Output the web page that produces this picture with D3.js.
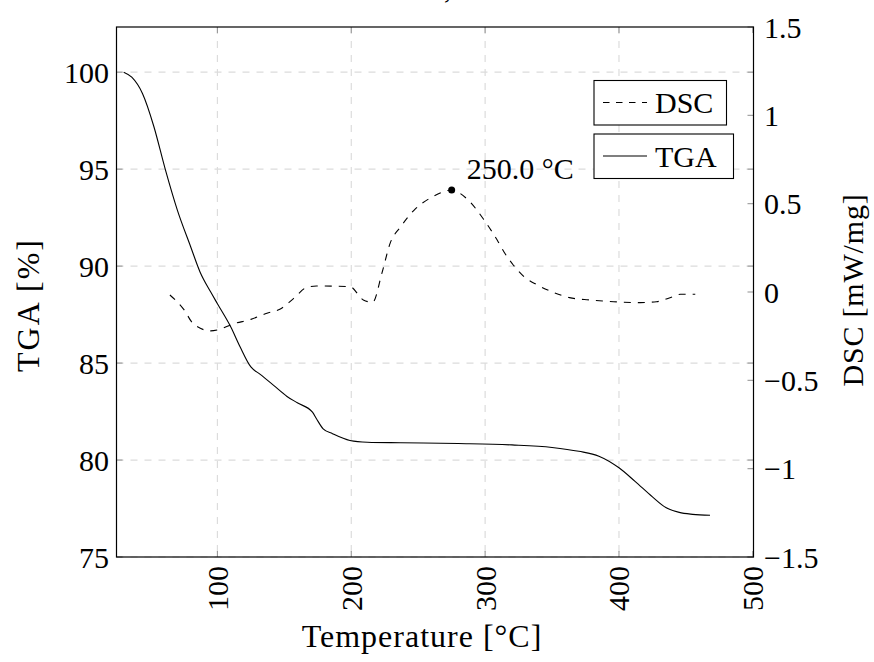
<!DOCTYPE html>
<html><head><meta charset="utf-8">
<script src="https://cdn.jsdelivr.net/npm/d3@7"></script>
<style>body{margin:0;background:#fff}svg{display:block}text{font-family:"Liberation Serif","DejaVu Serif",serif;fill:#000}</style>
</head><body><svg id="c" width="874" height="662"></svg>
<script>
// ---- data ----
const tgaTemp = [30,36,44,52.5,61,70,80,87,95,100,110,117,125,132,142,152,160,171,174,179,186,199,212,237,280,320,350,370,385,400,412,425,435,445,455,468];
const tgaVal  = [100,99.74,98.9,97.2,95.0,92.9,91.0,89.7,88.66,88.06,86.86,85.83,84.8,84.42,83.85,83.28,82.94,82.47,82.13,81.61,81.36,81.01,80.92,80.89,80.85,80.78,80.65,80.45,80.2,79.6,78.9,78.1,77.55,77.3,77.2,77.15];
const dscTemp = [64.5,75,82,95,100,112,125,137,147,157,167,174,199,209,216,223,229,237,247,261,275,286,299,309,314,321,329,339,351,363,378,396,416,428,440,446,457];
const dscVal  = [-0.017,-0.10,-0.18,-0.22,-0.215,-0.18,-0.155,-0.12,-0.096,-0.036,0.027,0.034,0.03,-0.045,-0.058,0.11,0.275,0.37,0.464,0.54,0.577,0.53,0.41,0.294,0.228,0.153,0.087,0.04,-0.002,-0.032,-0.045,-0.055,-0.06,-0.055,-0.027,-0.013,-0.013];
const peakPoint = {T: 275, v: 0.577, label: "250.0 °C"};
const xTicks = [100,200,300,400,500];
const tgaTicks = [75,80,85,90,95,100];
const dscTicks = [-1.5,-1,-0.5,0,0.5,1,1.5];
const seriesNames = ["DSC","TGA"];

// ---- layout ----
const L=116.5, R=753.5, T=27, B=557, FS=30;
const svg = d3.select("#c");
const x = d3.scaleLinear().domain([24.6,500.5]).range([L,R]);
const yT = d3.scaleLinear().domain([75,102.33]).range([B,T]);
const yD = d3.scaleLinear().domain([-1.5,1.5]).range([B,T]);
const fmt = v => (v<0?"\u2212":"")+Math.abs(v);

// grid
const g = svg.append("g");
xTicks.filter(t=>t<500).forEach(t=>g.append("line").attr("x1",x(t)).attr("x2",x(t)).attr("y1",T).attr("y2",B)
  .attr("stroke","#dcdcdc").attr("stroke-width",1.2).attr("stroke-dasharray","7,7"));
tgaTicks.forEach(t=>g.append("line").attr("x1",L).attr("x2",R).attr("y1",yT(t)).attr("y2",yT(t))
  .attr("stroke","#dcdcdc").attr("stroke-width",1.2).attr("stroke-dasharray","7,7"));

// ticks (inward)
const tk = svg.append("g").attr("stroke","#999").attr("stroke-width",1.1);
xTicks.forEach(t=>{tk.append("line").attr("x1",x(t)).attr("x2",x(t)).attr("y1",B).attr("y2",B-6);
  tk.append("line").attr("x1",x(t)).attr("x2",x(t)).attr("y1",T).attr("y2",T+6);});
tgaTicks.forEach(t=>{tk.append("line").attr("x1",L).attr("x2",L+6).attr("y1",yT(t)).attr("y2",yT(t));
  tk.append("line").attr("x1",R).attr("x2",R-6).attr("y1",yT(t)).attr("y2",yT(t));});
dscTicks.forEach(t=>{tk.append("line").attr("x1",R).attr("x2",R-6).attr("y1",yD(t)).attr("y2",yD(t));});

// frame
svg.append("rect").attr("x",L).attr("y",T).attr("width",R-L).attr("height",B-T)
  .attr("fill","none").attr("stroke","#000").attr("stroke-width",1.2);

// tick labels
xTicks.forEach(t=>svg.append("text").attr("transform",`translate(${x(t)},566) rotate(-90)`)
  .attr("text-anchor","end").attr("dy","0.35em").attr("font-size",FS).text(t));
tgaTicks.forEach(t=>svg.append("text").attr("x",109).attr("y",yT(t)).attr("dy","0.35em")
  .attr("text-anchor","end").attr("font-size",FS).text(t));
dscTicks.forEach(t=>svg.append("text").attr("x",764).attr("y",yD(t)).attr("dy","0.35em")
  .attr("font-size",FS).text(fmt(t)));

// axis titles
svg.append("text").attr("x",422).attr("y",647).attr("text-anchor","middle").attr("font-size",32)
  .attr("letter-spacing","1px").text("Temperature [°C]");
svg.append("text").attr("transform","translate(28,305) rotate(-90)").attr("text-anchor","middle").attr("dy","0.35em")
  .attr("font-size",32).attr("letter-spacing","2px").text("TGA [%]");
svg.append("text").attr("transform","translate(854,290) rotate(-90)").attr("text-anchor","middle").attr("dy","0.3em")
  .attr("font-size",30).attr("letter-spacing","0.8px").text("DSC [mW/mg]");
svg.append("text").attr("x",444).attr("y",-2).attr("font-size",FS).text(",");

// lines
const tga = tgaTemp.map((t,i)=>[t,tgaVal[i]]);
const dsc = dscTemp.map((t,i)=>[t,dscVal[i]]);
svg.append("path").datum(tga).attr("fill","none").attr("stroke","#000").attr("stroke-width",1.1)
  .attr("d",d3.line().x(d=>x(d[0])).y(d=>yT(d[1])).curve(d3.curveMonotoneX));
svg.append("path").datum(dsc).attr("fill","none").attr("stroke","#000").attr("stroke-width",1.1)
  .attr("stroke-dasharray","7,7")
  .attr("d",d3.line().x(d=>x(d[0])).y(d=>yD(d[1])).curve(d3.curveMonotoneX));

// peak marker
svg.append("circle").attr("cx",x(peakPoint.T)).attr("cy",yD(peakPoint.v)).attr("r",3.5).attr("fill","#000");
svg.append("text").attr("x",x(peakPoint.T)+15).attr("y",yD(peakPoint.v)-11).attr("font-size",FS).text(peakPoint.label);

// legends
function legend(y0,w,name,dash){
  const lg = svg.append("g");
  lg.append("rect").attr("x",594).attr("y",y0).attr("width",w).attr("height",44.5)
    .attr("fill","#fff").attr("stroke","#000").attr("stroke-width",1.1);
  lg.append("line").attr("x1",603).attr("x2",647).attr("y1",y0+22).attr("y2",y0+22)
    .attr("stroke","#000").attr("stroke-width",1.1).attr("stroke-dasharray",dash?"6.5,6.5":null);
  lg.append("text").attr("x",655).attr("y",y0+22).attr("dy","0.35em").attr("font-size",FS).text(name);
}
legend(80.5,132.5,seriesNames[0],true);
legend(134,139.5,seriesNames[1],false);
</script></body></html>
